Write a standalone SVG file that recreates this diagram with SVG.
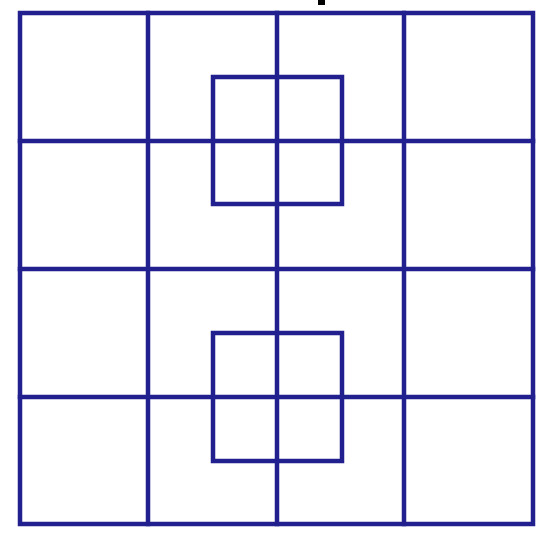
<svg xmlns="http://www.w3.org/2000/svg" width="550" height="540" viewBox="0 0 550 540">
<style>
.l{stroke:#22208f;stroke-width:4.5;fill:none;stroke-linecap:square}
</style>
<rect width="550" height="540" fill="#ffffff"/>
<rect x="318" y="0" width="7" height="5" fill="#000000"/>
<g id="grid">
<rect class="l" x="20" y="13" width="513" height="511"/>
<line class="l" x1="148" y1="13" x2="148" y2="524"/>
<line class="l" x1="277" y1="13" x2="277" y2="524"/>
<line class="l" x1="404" y1="13" x2="404" y2="524"/>
<line class="l" x1="20" y1="141" x2="533" y2="141"/>
<line class="l" x1="20" y1="269" x2="533" y2="269"/>
<line class="l" x1="20" y1="397" x2="533" y2="397"/>
</g>
<g id="square-top"><rect class="l" x="213" y="77" width="129" height="127"/></g>
<g id="square-bottom"><rect class="l" x="213" y="333" width="129" height="128"/></g>
</svg>
